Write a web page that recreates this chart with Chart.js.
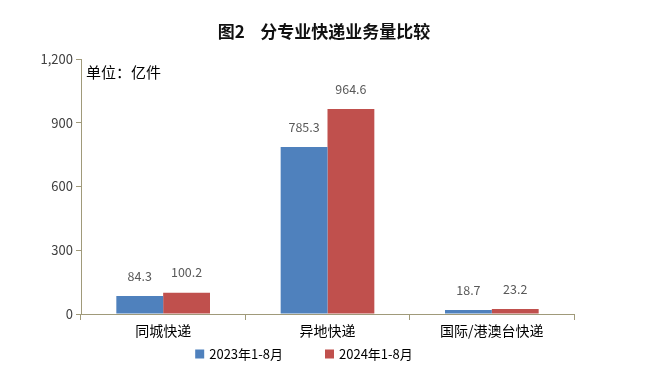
<!DOCTYPE html>
<html>
<head>
<meta charset="utf-8">
<script src="https://cdn.jsdelivr.net/npm/chart.js@4/dist/chart.umd.min.js"></script>
<style>
html,body{margin:0;padding:0;background:#fff;}
#wrap{width:659px;height:379px;position:relative;}
</style>
</head>
<body>
<div id="wrap"><canvas id="c" width="659" height="379"></canvas></div>
<script>
const categories = ['同城快递', '异地快递', '国际/港澳台快递'];
const series2023 = [84.3, 785.3, 18.7];
const series2024 = [100.2, 964.6, 23.2];
const seriesNames = ['2023年1-8月', '2024年1-8月'];
const seriesColors = ['#4F81BD', '#C0504D'];
const yTicks = [0, 300, 600, 900, 1200];
const titleText = '图2    分专业快递业务量比较';
const unitText = '单位：亿件';

const FONT = '"Noto Sans CJK SC", "Noto Sans", sans-serif';

const decorPlugin = {
  id: 'decor',
  afterDraw(chart) {
    const ctx = chart.ctx;
    const a = chart.chartArea;
    ctx.save();
    // data labels
    ctx.font = '12.5px ' + FONT;
    ctx.fillStyle = '#595959';
    ctx.textAlign = 'center';
    ctx.textBaseline = 'middle';
    chart.data.datasets.forEach((ds, i) => {
      chart.getDatasetMeta(i).data.forEach((bar, j) => {
        ctx.fillText(ds.data[j].toFixed(1), bar.x, bar.y - 20);
      });
    });
    // unit
    ctx.font = '15px ' + FONT;
    ctx.fillStyle = '#000';
    ctx.textAlign = 'left';
    ctx.fillText(unitText, a.left + 5, a.top + 13);
    // title
    ctx.font = 'bold 17px ' + FONT;
    ctx.textAlign = 'center';
    ctx.fillStyle = '#111';
    ctx.fillText(titleText, 324, 32);
    // legend
    ctx.font = '13px ' + FONT;
    ctx.textAlign = 'left';
    const gap = 42, box = 9;
    const widths = seriesNames.map(n => ctx.measureText(n).width);
    const total = widths.reduce((s, w) => s + box + 5 + w, 0) + gap;
    let x = 304 - total / 2;
    const y = 354;
    seriesNames.forEach((n, i) => {
      ctx.fillStyle = seriesColors[i];
      ctx.fillRect(x, y - box / 2, box, box);
      ctx.fillStyle = '#000';
      ctx.fillText(n, x + box + 5, y);
      x += box + 5 + widths[i] + gap;
    });
    ctx.restore();
  }
};

new Chart(document.getElementById('c'), {
  type: 'bar',
  data: {
    labels: categories,
    datasets: [
      { label: seriesNames[0], data: series2023, backgroundColor: seriesColors[0] },
      { label: seriesNames[1], data: series2024, backgroundColor: seriesColors[1] }
    ]
  },
  options: {
    responsive: false,
    animation: false,
    devicePixelRatio: 1,
    layout: { padding: { left: 5, right: 85, top: 59, bottom: 39 } },
    datasets: { bar: { barPercentage: 1, categoryPercentage: 0.57 } },
    plugins: {
      title: { display: false },
      legend: { display: false },
      tooltip: { enabled: false }
    },
    scales: {
      x: {
        afterFit(s) { s.height = 26; },
        grid: { display: true, drawOnChartArea: false, offset: true, tickLength: 6, color: '#a09a7a' },
        border: { color: '#a09a7a' },
        ticks: { color: '#000', font: { family: FONT, size: 14 }, padding: 2 }
      },
      y: {
        min: 0, max: 1200,
        afterBuildTicks(s) { s.ticks = yTicks.map(v => ({ value: v })); },
        afterFit(s) { s.width = 76; },
        grid: { display: true, drawOnChartArea: false, tickLength: 5, color: '#a09a7a' },
        border: { color: '#a09a7a' },
        ticks: {
          color: '#404040', font: { family: FONT, size: 13 }, padding: 3,
          callback: v => v.toLocaleString('en-US')
        }
      }
    }
  },
  plugins: [decorPlugin]
});
</script>
</body>
</html>
